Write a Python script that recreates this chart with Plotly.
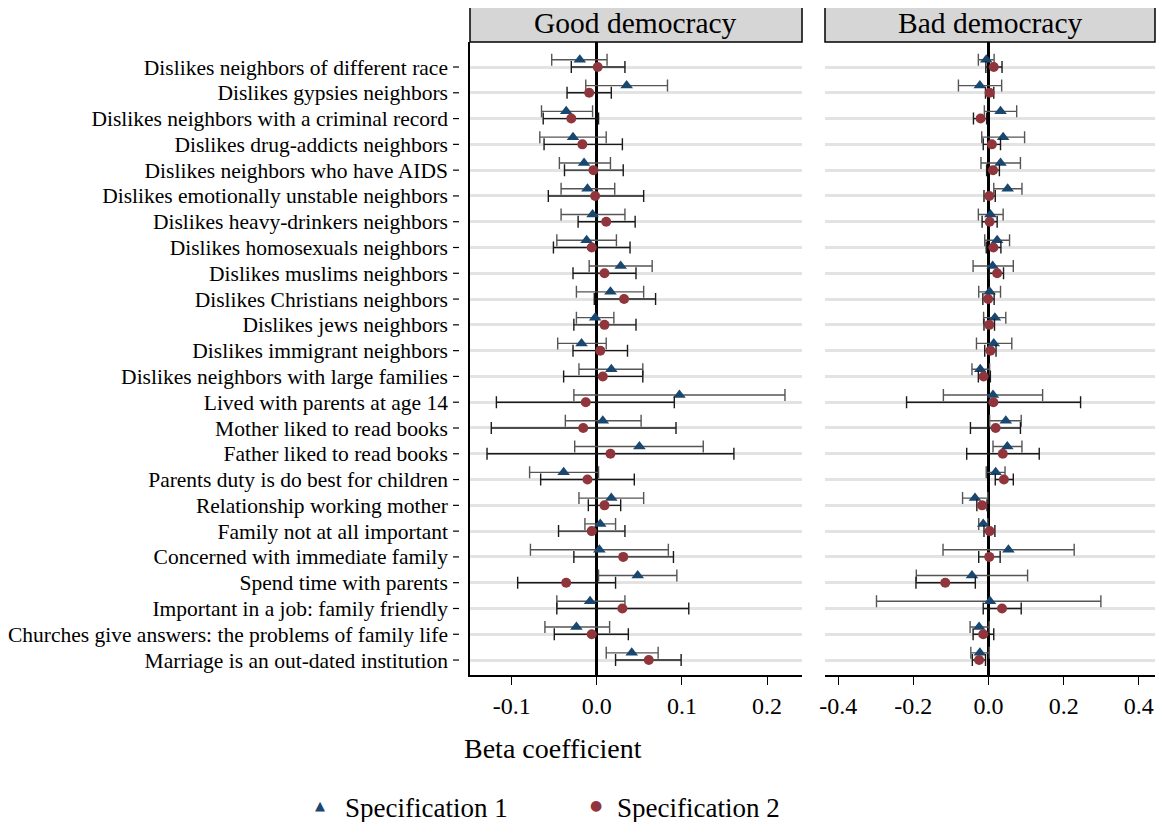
import plotly.graph_objects as go

labels = [
    "Dislikes neighbors of different race",
    "Dislikes gypsies neighbors",
    "Dislikes neighbors with a criminal record",
    "Dislikes drug-addicts neighbors",
    "Dislikes neighbors who have AIDS",
    "Dislikes emotionally unstable neighbors",
    "Dislikes heavy-drinkers neighbors",
    "Dislikes homosexuals neighbors",
    "Dislikes muslims neighbors",
    "Dislikes Christians neighbors",
    "Dislikes jews neighbors",
    "Dislikes immigrant neighbors",
    "Dislikes neighbors with large families",
    "Lived with parents at age 14",
    "Mother liked to read books",
    "Father liked to read books",
    "Parents duty is do best for children",
    "Relationship working mother",
    "Family not at all important",
    "Concerned with immediate family",
    "Spend time with parents",
    "Important in a job: family friendly",
    "Churches give answers: the problems of family life",
    "Marriage is an out-dated institution",
]

# Good democracy
good_s1 = [-0.020, 0.035, -0.036, -0.028, -0.015, -0.011, -0.005, -0.012, 0.028, 0.016, -0.002, -0.018,
           0.017, 0.097, 0.007, 0.050, -0.039, 0.017, 0.004, 0.003, 0.048, -0.008, -0.024, 0.041]
good_s1_lo = [-0.053, -0.013, -0.065, -0.067, -0.044, -0.042, -0.042, -0.047, -0.009, -0.024, -0.024, -0.046,
              -0.021, -0.027, -0.037, -0.026, -0.079, -0.021, -0.014, -0.078, 0.002, -0.047, -0.061, 0.011]
good_s1_hi = [0.012, 0.083, -0.005, 0.011, 0.016, 0.021, 0.033, 0.023, 0.065, 0.055, 0.020, 0.011,
              0.054, 0.221, 0.052, 0.125, 0.002, 0.055, 0.022, 0.084, 0.094, 0.033, 0.015, 0.072]
good_s2 = [0.001, -0.009, -0.030, -0.017, -0.004, -0.002, 0.011, -0.006, 0.009, 0.032, 0.009, 0.004,
           0.007, -0.013, -0.016, 0.016, -0.011, 0.009, -0.006, 0.031, -0.036, 0.030, -0.006, 0.061]
good_s2_lo = [-0.030, -0.035, -0.063, -0.062, -0.038, -0.057, -0.022, -0.051, -0.028, -0.003, -0.027, -0.028,
              -0.039, -0.118, -0.124, -0.129, -0.066, -0.010, -0.045, -0.027, -0.093, -0.047, -0.050, 0.022]
good_s2_hi = [0.033, 0.017, 0.002, 0.030, 0.031, 0.055, 0.045, 0.039, 0.046, 0.069, 0.046, 0.036,
              0.054, 0.091, 0.093, 0.161, 0.044, 0.028, 0.033, 0.090, 0.022, 0.108, 0.037, 0.099]

# Bad democracy
bad_s1 = [-0.006, -0.023, 0.032, 0.039, 0.032, 0.051, 0.005, 0.023, 0.011, 0.003, 0.017, 0.014,
          -0.022, 0.012, 0.046, 0.050, 0.019, -0.036, -0.014, 0.053, -0.044, 0.004, -0.025, -0.023]
bad_s1_lo = [-0.027, -0.080, -0.011, -0.018, -0.020, 0.014, -0.027, -0.010, -0.041, -0.026, -0.013, -0.032,
             -0.044, -0.120, 0.003, 0.012, -0.006, -0.069, -0.026, -0.121, -0.192, -0.298, -0.049, -0.047]
bad_s1_hi = [0.015, 0.035, 0.075, 0.096, 0.085, 0.089, 0.039, 0.056, 0.066, 0.032, 0.046, 0.062,
             0.003, 0.144, 0.087, 0.089, 0.044, -0.002, -0.002, 0.228, 0.104, 0.299, 0.002, 0.002]
bad_s2 = [0.014, 0.003, -0.021, 0.009, 0.012, 0.002, 0.003, 0.013, 0.023, -0.001, 0.002, 0.005,
          -0.013, 0.013, 0.019, 0.038, 0.041, -0.017, 0.003, 0.002, -0.115, 0.036, -0.014, -0.025]
bad_s2_lo = [-0.007, -0.008, -0.040, -0.014, -0.005, -0.012, -0.017, -0.006, 0.002, -0.015, -0.012, -0.010,
             -0.027, -0.218, -0.048, -0.058, 0.018, -0.031, -0.012, -0.026, -0.193, -0.014, -0.041, -0.043]
bad_s2_hi = [0.036, 0.014, -0.005, 0.032, 0.029, 0.018, 0.023, 0.033, 0.040, 0.015, 0.016, 0.020,
             0.005, 0.245, 0.085, 0.135, 0.066, -0.004, 0.017, 0.031, -0.035, 0.087, 0.014, -0.008]

good_ticks = [-0.1, 0.0, 0.1, 0.2]
good_ticktext = ["-0.1", "0.0", "0.1", "0.2"]
bad_ticks = [-0.4, -0.2, 0.0, 0.2, 0.4]
bad_ticktext = ["-0.4", "-0.2", "0.0", "0.2", "0.4"]

BLUE = "#1a476f"
RED = "#90353b"
FONT = "Liberation Serif"

n = len(labels)
rows = [n - 1 - i for i in range(n)]
off = 0.28

fig = go.Figure()


def add(est, lo, hi, xa, ya, name, sym, color, ecolor, size, dy):
    fig.add_trace(go.Scatter(
        x=est, y=[r + dy for r in rows], mode="markers", name=name,
        xaxis=xa, yaxis=ya, showlegend=False,
        marker=dict(symbol=sym, color=color, size=size),
        error_x=dict(type="data", symmetric=False,
                     array=[h - e for h, e in zip(hi, est)],
                     arrayminus=[e - l for e, l in zip(est, lo)],
                     color=ecolor, thickness=1.4, width=6),
    ))


add(good_s1, good_s1_lo, good_s1_hi, "x", "y", "Specification 1", "triangle-up", BLUE, "#555555", 11, off)
add(good_s2, good_s2_lo, good_s2_hi, "x", "y", "Specification 2", "circle", RED, "#1a1a1a", 10, 0)
add(bad_s1, bad_s1_lo, bad_s1_hi, "x2", "y2", "Specification 1", "triangle-up", BLUE, "#555555", 11, off)
add(bad_s2, bad_s2_lo, bad_s2_hi, "x2", "y2", "Specification 2", "circle", RED, "#1a1a1a", 10, 0)

# page body has an 8px margin, so the figure is 16px smaller than the window
W, H = 1148, 814
px_x = lambda p: (p - 8) / W
px_y = lambda p: 1 - (p - 8) / H

xcommon = dict(showgrid=False, zeroline=True, zerolinecolor="black", zerolinewidth=2.5,
               showline=True, linecolor="black", linewidth=1.5, ticks="outside", ticklen=8,
               tickcolor="black", tickwidth=1.2, tickfont=dict(size=24, family=FONT, color="black"))
ycommon = dict(range=[-0.58, n - 0.03], tickvals=rows, showgrid=True, gridcolor="#e3e3e3",
               gridwidth=2.5, zeroline=False, domain=[px_y(675), px_y(42)])

fig.update_layout(
    width=W, height=H, autosize=False,
    margin=dict(l=0, r=0, t=0, b=0, autoexpand=False),
    plot_bgcolor="white", paper_bgcolor="white",
    font=dict(family=FONT, color="black"),
    xaxis=dict(domain=[px_x(470), px_x(802)], range=[-0.149, 0.241],
               tickvals=good_ticks, ticktext=good_ticktext, anchor="y", **xcommon),
    xaxis2=dict(domain=[px_x(825), px_x(1155)], range=[-0.435, 0.443],
                tickvals=bad_ticks, ticktext=bad_ticktext, anchor="y2", **xcommon),
    yaxis=dict(ticktext=labels, showline=True, linecolor="black", linewidth=1.5,
               tickfont=dict(size=21.5, family=FONT, color="black"), ticks="",
               ticklabelstandoff=16, anchor="x", **ycommon),
    yaxis2=dict(matches="y", showticklabels=False, showline=False, ticks="", anchor="x2", **ycommon),
    showlegend=False,
)

# small detached tick marks next to the row labels
for r in rows:
    fig.add_shape(type="line", xref="paper", yref="y", x0=px_x(453), x1=px_x(459), y0=r, y1=r,
                  line=dict(color="black", width=1.2))

for x0, x1, title in [(470, 802, "Good democracy"), (825, 1155, "Bad democracy")]:
    fig.add_shape(type="rect", xref="paper", yref="paper",
                  x0=px_x(x0), x1=px_x(x1), y0=px_y(42), y1=px_y(4),
                  fillcolor="#d6d6d6", line=dict(color="black", width=1.5), layer="above")
    fig.add_annotation(text=title, xref="paper", yref="paper", x=px_x((x0 + x1) / 2),
                       y=px_y(23), xanchor="center", yanchor="middle", showarrow=False,
                       font=dict(size=29.5, family=FONT, color="black"))

fig.add_annotation(text="Beta coefficient", xref="paper", yref="paper", x=px_x(553), y=px_y(748),
                   xanchor="center", yanchor="middle", showarrow=False,
                   font=dict(size=28, family=FONT, color="black"))

# legend drawn as key symbols plus labels
for sx, tx, sym, size, color, name in [(320, 343, "▲", 13, BLUE, "Specification 1"),
                                       (596, 615, "●", 14, RED, "Specification 2")]:
    fig.add_annotation(text=sym, xref="paper", yref="paper", x=px_x(sx), y=px_y(805),
                       xanchor="center", yanchor="middle", showarrow=False,
                       font=dict(size=size, family="DejaVu Sans", color=color))
    fig.add_annotation(text=name, xref="paper", yref="paper", x=px_x(tx), y=px_y(808),
                       xanchor="left", yanchor="middle", showarrow=False,
                       font=dict(size=27, family=FONT, color="black"))

fig.write_html("out.html")
